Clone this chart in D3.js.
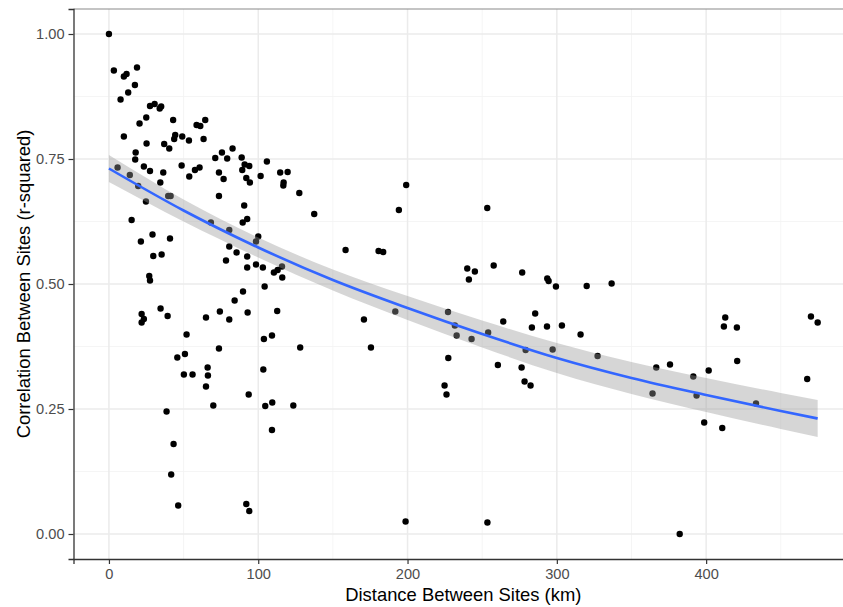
<!DOCTYPE html>
<html><head><meta charset="utf-8">
<script src="https://cdn.jsdelivr.net/npm/d3@7"></script>
<style>html,body{margin:0;padding:0;background:#fff;overflow:hidden}svg{display:block}</style>
</head><body>
<script>
const distKm = [0,3.3,10,11.8,18.8,17.4,12.9,7.8,27.5,30.6,35,34,43,20.5,25,58.7,61.2,64.5,10,25.2,37,40.4,44.4,43.7,49.1,53.6,63.4,17.9,17.6,23.4,27.5,36.4,34.4,48.7,53.8,57.6,60.7,71.2,75.7,79.2,82.8,73.7,76.8,88.9,90.9,94,89.3,92,94.4,101.6,105.8,114.7,119.7,117,116.8,73.7,5.8,14,19.6,24.8,39.7,41.3,127.5,
90.6,92.6,89.6,68.3,80.6,100,98.5,80.6,85.5,92.6,29.2,40.9,21.4,29.7,35.3,78.4,92.6,98.5,103.1,110.5,113,115.9,116.1,15.2,27,27.5,104.3,89.8,84.2,34.6,39.3,21.9,23.4,21.9,65,74.3,80.6,92.9,112.7,52,103.8,109.2,73.7,128.1,50.9,45.8,50.2,56,66.1,66.3,65,103.4,
93.6,38.6,69.9,104.7,109.4,123.5,109.2,43.3,41.7,46.4,92,94,
137.5,199.1,194.2,253.4,158.5,180.6,183.7,240,245.1,241.1,257.7,276.8,293.6,294.5,299.4,191.8,227.1,231.7,232.9,242.9,254,264.1,285.5,283.3,293.4,303.4,279.1,297.2,170.8,175.5,227.3,260.5,276.4,278.4,282.4,224.8,226.1,
320,336.7,315.9,327.3,366.6,375.8,364.1,391.4,401.7,393.6,412.8,411.9,420.6,420.8,398.7,410.8,433.4,470.2,474.7,467.7,
198.7,253.5,382.3];
const rSquared = [1.0,0.927,0.915,0.92,0.933,0.898,0.883,0.869,0.856,0.86,0.855,0.851,0.828,0.821,0.833,0.818,0.816,0.828,0.795,0.781,0.78,0.771,0.798,0.79,0.795,0.787,0.79,0.763,0.749,0.735,0.726,0.723,0.703,0.737,0.715,0.728,0.733,0.752,0.763,0.751,0.771,0.723,0.71,0.753,0.739,0.736,0.728,0.712,0.703,0.716,0.745,0.723,0.724,0.703,0.697,0.676,0.733,0.718,0.696,0.665,0.676,0.676,0.682,
0.657,0.63,0.623,0.623,0.608,0.595,0.585,0.575,0.563,0.555,0.599,0.591,0.585,0.556,0.559,0.547,0.533,0.539,0.533,0.523,0.528,0.535,0.513,0.628,0.516,0.507,0.495,0.485,0.467,0.451,0.436,0.44,0.43,0.423,0.433,0.445,0.429,0.443,0.446,0.399,0.39,0.397,0.371,0.373,0.36,0.353,0.319,0.319,0.333,0.317,0.295,0.329,
0.279,0.245,0.257,0.256,0.263,0.257,0.208,0.18,0.119,0.057,0.06,0.046,
0.64,0.698,0.648,0.652,0.568,0.566,0.564,0.531,0.525,0.509,0.537,0.523,0.511,0.506,0.495,0.445,0.444,0.417,0.397,0.39,0.403,0.425,0.441,0.413,0.415,0.417,0.368,0.369,0.429,0.373,0.352,0.338,0.333,0.305,0.297,0.297,0.279,
0.496,0.501,0.399,0.356,0.333,0.339,0.281,0.315,0.327,0.277,0.433,0.415,0.413,0.346,0.223,0.212,0.261,0.435,0.423,0.31,
0.025,0.023,0.0];

// fitted trend
const fitX  = [0, 50, 100, 150, 200, 250, 300, 350, 400, 450, 474.7];
const fitY  = [0.731, 0.647, 0.573, 0.508, 0.452, 0.400, 0.352, 0.312, 0.278, 0.246, 0.231];
const fitLo = [0.704, 0.625, 0.553, 0.487, 0.428, 0.373, 0.322, 0.280, 0.244, 0.210, 0.194];
const fitHi = [0.758, 0.669, 0.593, 0.529, 0.476, 0.427, 0.382, 0.344, 0.312, 0.282, 0.268];

const xTicks = [0, 100, 200, 300, 400];
const xMinor = [50, 150, 250, 350, 450];
const yTicks = [0, 0.25, 0.5, 0.75, 1.0];
const yMinor = [0.125, 0.375, 0.625, 0.875];
const xTitle = "Distance Between Sites (km)";
const yTitle = "Correlation Between Sites (r-squared)";

const W = 843, H = 607;
const L = 73.5, T = 9, B = 559;
const xMax = d3.max(distKm), xPad = xMax * 0.05;
const pxPerUnit = (258.3 - 109) / 100;
const R = L + (xMax + 2 * xPad) * pxPerUnit;

const x = d3.scaleLinear().domain([-xPad, xMax + xPad]).range([L, R]);
const y = d3.scaleLinear().domain([-0.05, 1.05]).range([B, T]);

const svg = d3.select("body").append("svg").attr("width", W).attr("height", H);
svg.append("rect").attr("width", W).attr("height", H).attr("fill", "#fff");

const g = svg.append("g");
// minor grid
g.selectAll(".xm").data(xMinor).join("line")
  .attr("x1", d => x(d)).attr("x2", d => x(d)).attr("y1", T).attr("y2", B)
  .attr("stroke", "#F2F2F2").attr("stroke-width", 0.8);
g.selectAll(".ym").data(yMinor).join("line")
  .attr("y1", d => y(d)).attr("y2", d => y(d)).attr("x1", L).attr("x2", R)
  .attr("stroke", "#F2F2F2").attr("stroke-width", 0.8);
// major grid
g.selectAll(".xg").data(xTicks).join("line")
  .attr("x1", d => x(d)).attr("x2", d => x(d)).attr("y1", T).attr("y2", B)
  .attr("stroke", "#EBEBEB").attr("stroke-width", 1.5);
g.selectAll(".yg").data(yTicks).join("line")
  .attr("y1", d => y(d)).attr("y2", d => y(d)).attr("x1", L).attr("x2", R)
  .attr("stroke", "#EBEBEB").attr("stroke-width", 1.5);

// points
const pts = distKm.map((d, i) => ({x: d, y: rSquared[i]}));
svg.append("g").selectAll("circle").data(pts).join("circle")
  .attr("cx", d => x(d.x)).attr("cy", d => y(d.y)).attr("r", 3.2).attr("fill", "#000");

// confidence band and line
const fit = fitX.map((d, i) => ({x: d, y: fitY[i], lo: fitLo[i], hi: fitHi[i]}));
svg.append("path").datum(fit)
  .attr("d", d3.area().x(d => x(d.x)).y0(d => y(d.lo)).y1(d => y(d.hi)).curve(d3.curveMonotoneX))
  .attr("fill", "#999999").attr("fill-opacity", 0.4);
svg.append("path").datum(fit)
  .attr("d", d3.line().x(d => x(d.x)).y(d => y(d.y)).curve(d3.curveMonotoneX))
  .attr("fill", "none").attr("stroke", "#3366FF").attr("stroke-width", 2.6);

// border
svg.append("line").attr("x1", L).attr("x2", R).attr("y1", T).attr("y2", T).attr("stroke", "#8a8a8a").attr("stroke-width", 1.2);
svg.append("line").attr("x1", R).attr("x2", R).attr("y1", T).attr("y2", B).attr("stroke", "#333").attr("stroke-width", 1.2);

// axes
const xAxis = svg.append("g").attr("transform", `translate(0,${B})`)
  .call(d3.axisBottom(x).tickValues(xTicks).tickSize(5).tickPadding(5).tickFormat(d3.format("d")));
const yAxis = svg.append("g").attr("transform", `translate(${L},0)`)
  .call(d3.axisLeft(y).tickValues(yTicks).tickSize(5).tickPadding(4).tickFormat(d3.format(".2f")));
[xAxis, yAxis].forEach(a => {
  a.select(".domain").attr("stroke", "#333").attr("stroke-width", 1.3);
  a.selectAll(".tick line").attr("stroke", "#333").attr("stroke-width", 1.2);
  a.selectAll(".tick text").attr("fill", "#4D4D4D")
    .style("font-family", "'Liberation Sans', Arial, sans-serif").style("font-size", "14.6px");
});

svg.append("text").attr("x", (L + R) / 2).attr("y", 601)
  .attr("text-anchor", "middle").attr("fill", "#000")
  .style("font-family", "'Liberation Sans', Arial, sans-serif").style("font-size", "18.4px")
  .text(xTitle);
svg.append("text").attr("transform", `translate(30,${(T + B) / 2}) rotate(-90)`)
  .attr("text-anchor", "middle").attr("fill", "#000")
  .style("font-family", "'Liberation Sans', Arial, sans-serif").style("font-size", "18.4px")
  .text(yTitle);
</script>
</body></html>
